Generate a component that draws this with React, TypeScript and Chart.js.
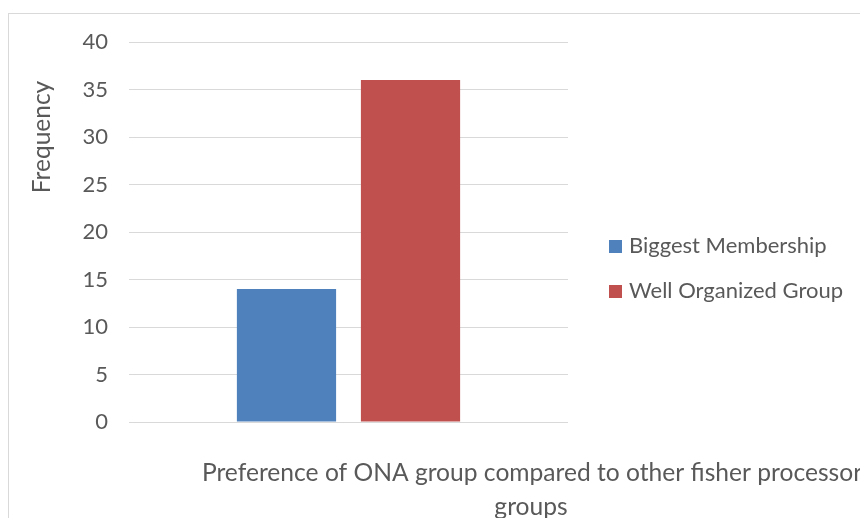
import React, { useEffect, useRef } from "react";
import { Chart, registerables } from "chart.js";

Chart.register(...registerables);

// ---- data ----
const categories = ["Preference of ONA group compared to other fisher processor groups"];
const seriesNames = ["Biggest Membership", "Well Organized Group"];
const biggestMembership = [14];
const wellOrganizedGroup = [36];
const seriesColors = ["#4F81BD", "#C0504D"];
const yMin = 0;
const yMax = 40;
const yStep = 5;
const yAxisTitle = "Frequency";
const xAxisTitleLines = ["Preference of ONA group compared to other fisher processor", "groups"];

const FONT = "Lato, 'Open Sans', sans-serif";
const TEXT = "#595959";
const GRID = "#d9d9d9";

const decorPlugin = {
  id: "decor",
  afterDraw(chart: any) {
    const ctx = chart.ctx;
    const area = chart.chartArea;
    ctx.save();
    ctx.fillStyle = TEXT;
    // y axis title
    ctx.font = `24.5px ${FONT}`;
    ctx.textAlign = "center";
    ctx.textBaseline = "middle";
    ctx.save();
    ctx.translate(42, 137);
    ctx.rotate(-Math.PI / 2);
    ctx.fillText(yAxisTitle, 0, 0);
    ctx.restore();
    // x axis title
    ctx.font = `24.6px ${FONT}`;
    ctx.fillText(xAxisTitleLines[0], 532, area.bottom + 51);
    ctx.fillText(xAxisTitleLines[1], 531, area.bottom + 85);
    // legend
    ctx.font = `22px ${FONT}`;
    ctx.textAlign = "left";
    chart.data.datasets.forEach((ds: any, i: number) => {
      const cy = 246 + i * 45;
      ctx.fillStyle = ds.backgroundColor;
      ctx.fillRect(609, cy - 6, 13, 13);
      ctx.fillStyle = TEXT;
      ctx.fillText(ds.label, 629, cy);
    });
    ctx.restore();
  },
};

export default function App() {
  const ref = useRef<HTMLCanvasElement | null>(null);
  useEffect(() => {
    if (!ref.current) return;
    const chart = new Chart(ref.current, {
      type: "bar",
      data: {
        labels: categories,
        datasets: [
          { label: seriesNames[0], data: biggestMembership, backgroundColor: seriesColors[0] },
          { label: seriesNames[1], data: wellOrganizedGroup, backgroundColor: seriesColors[1] },
        ],
      },
      options: {
        animation: false,
        responsive: false,
        layout: { padding: { top: 42, right: 292, left: 0, bottom: 0 } },
        plugins: { legend: { display: false }, tooltip: { enabled: false } },
        datasets: { bar: { categoryPercentage: 0.565, barPercentage: 0.8 } },
        scales: {
          x: {
            ticks: { display: false },
            grid: { display: false, drawTicks: false },
            border: { display: false },
            afterFit: (s: any) => { s.height = 96; },
          },
          y: {
            min: yMin,
            max: yMax,
            ticks: { stepSize: yStep, color: TEXT, font: { family: FONT, size: 22 }, padding: 21 },
            grid: { color: GRID, drawTicks: false, lineWidth: 1 },
            border: { display: false },
            afterFit: (s: any) => { s.width = 129; },
          },
        },
      },
      plugins: [decorPlugin],
    });
    return () => chart.destroy();
  }, []);
  return (
    <div style={{ position: "fixed", left: 0, top: 0, width: 860, height: 518, overflow: "hidden", background: "#fff" }}>
      <div style={{ position: "absolute", left: 8, top: 13, width: 900, height: 600, borderTop: `1px solid ${GRID}`, borderLeft: `1px solid ${GRID}` }} />
      <canvas ref={ref} width={860} height={518} style={{ position: "absolute", left: 0, top: 0, width: 860, height: 518 }} />
    </div>
  );
}
